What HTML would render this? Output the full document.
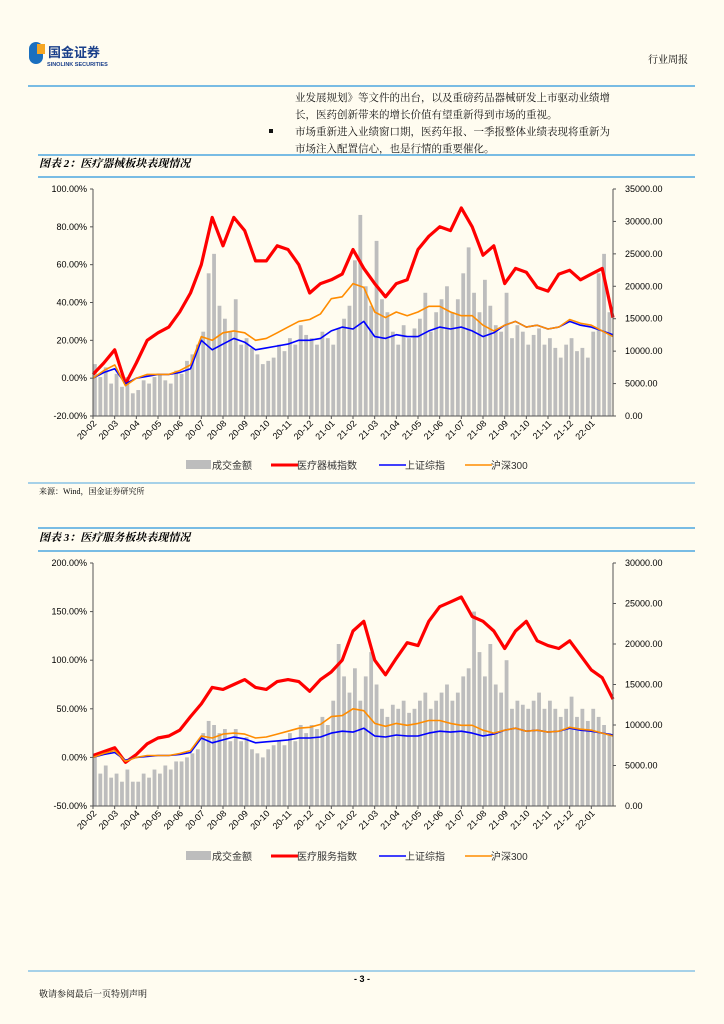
<!DOCTYPE html>
<html><head><meta charset="utf-8"><style>
body{margin:0;background:#fffcf0;}
svg{display:block;font-family:"Liberation Sans","Noto Sans CJK SC",sans-serif;}
.cn{font-family:"Liberation Serif","Noto Serif CJK SC",serif;}
</style></head><body>
<svg id="page" width="724" height="1024" viewBox="0 0 724 1024">
<rect width="724" height="1024" fill="#fffcf0"/>
<g>
<rect x="29" y="42" width="14" height="22" rx="7" fill="#1a6fbf"/>
<rect x="37" y="44" width="8" height="10" fill="#f5a623"/>
<text x="48" y="57" font-size="13" font-weight="bold" fill="#1a3f8a">国金证券</text>
<text x="47" y="66" font-size="5.5" font-weight="bold" fill="#1a3f8a">SINOLINK SECURITIES</text>
</g>
<text x="688" y="63" font-size="10" text-anchor="end" class="cn">行业周报</text>
<line x1="28" y1="86" x2="695" y2="86" stroke="#4da6e0" stroke-width="1.5"/>
<g class="cn" font-size="10.5" fill="#111">
<text x="295" y="101">业发展规划》等文件的出台，以及重磅药品器械研发上市驱动业绩增</text>
<text x="295" y="118">长，医药创新带来的增长价值有望重新得到市场的重视。</text>
<rect x="269" y="129" width="4" height="4" fill="#111"/>
<text x="295" y="135">市场重新进入业绩窗口期，医药年报、一季报整体业绩表现将重新为</text>
<text x="295" y="152">市场注入配置信心，也是行情的重要催化。</text>
</g>
<line x1="38" y1="155" x2="695" y2="155" stroke="#4da6e0" stroke-width="1.5"/>
<text x="39" y="167" font-size="11" font-weight="bold" font-style="italic" class="cn">图表 2：医疗器械板块表现情况</text>
<line x1="38" y1="177" x2="695" y2="177" stroke="#4da6e0" stroke-width="1.5"/>
<g id="c1"></g>
<line x1="28" y1="483" x2="695" y2="483" stroke="#4da6e0" stroke-width="1"/>
<text x="39" y="494" font-size="8" class="cn">来源：Wind，国金证券研究所</text>
<line x1="38" y1="528" x2="695" y2="528" stroke="#4da6e0" stroke-width="1.5"/>
<text x="39" y="541" font-size="11" font-weight="bold" font-style="italic" class="cn">图表 3：医疗服务板块表现情况</text>
<line x1="38" y1="551" x2="695" y2="551" stroke="#4da6e0" stroke-width="1.5"/>
<g id="c2"></g>
<line x1="28" y1="971" x2="695" y2="971" stroke="#4da6e0" stroke-width="1"/>
<text x="362" y="982" font-size="9" font-weight="bold" text-anchor="middle">- 3 -</text>
<text x="39" y="997" font-size="9" class="cn">敬请参阅最后一页特别声明</text>
</svg>
<script>
const months=["20-02","20-03","20-04","20-05","20-06","20-07","20-08","20-09","20-10","20-11","20-12","21-01","21-02","21-03","21-04","21-05","21-06","21-07","21-08","21-09","21-10","21-11","21-12","22-01"];
const deviceIndex=[2,8,15,-3,8,20,24,27,35,45,60,85,70,85,78,62,62,70,68,60,45,50,52,55,68,58,50,43,50,52,68,75,80,78,90,80,65,70,50,58,56,48,46,55,57,52,55,58,32];
const serviceIndex=[2,6,10,-5,3,14,20,22,28,42,55,72,70,75,80,72,70,78,80,78,68,80,88,100,130,140,100,85,102,118,115,140,155,160,165,145,140,130,112,130,140,120,115,112,120,105,90,82,60];
const shIndex=[0,3,5,-3,0,1,2,2,3,5,20,15,18,21,19,15,16,17,18,20,20,21,25,27,26,30,22,21,23,22,22,25,27,26,27,25,22,24,28,30,27,28,26,27,30,28,27,25,23];
const hs300=[0,4,7,-4,0,2,2,2,4,7,22,20,24,25,24,20,21,24,27,30,31,34,42,43,50,48,35,32,35,33,35,38,38,35,33,33,28,25,28,30,27,28,26,27,31,29,28,25,22];
const volume1=[8000,6000,7500,5000,6500,4500,6000,3500,4000,5500,5000,6000,6500,5500,5000,7000,6500,8500,9500,11000,13000,22000,25000,17000,15000,13000,18000,11000,12000,10500,9500,8000,8500,9000,11000,10000,12000,11000,14000,12500,12000,11000,13000,12000,11000,13500,15000,17000,24000,31000,20000,17000,27000,18000,16000,13000,11000,14000,12000,13500,15000,19000,13000,16000,18000,20000,16000,18000,22000,26000,19000,16000,21000,17000,14000,13000,19000,12000,14000,13000,11000,12500,13500,11000,12000,10500,9000,11000,12000,10000,10500,9000,13000,22000,25000,16000];
const volume2=[6000,4000,5000,3500,4000,3000,4500,3000,3000,4000,3500,4500,4000,5000,4500,5500,5500,6000,6500,7000,9000,10500,10000,9000,9500,8000,9500,8000,8500,7000,6500,6000,7000,7500,8000,7500,9000,8000,10000,9000,10000,9500,11000,10000,13000,20000,16000,14000,17000,13000,16000,19000,15000,12000,11000,12500,12000,13000,11500,12000,13000,14000,12000,13000,14000,15000,13000,14000,16000,17000,24000,19000,16000,20000,15000,14000,18000,12000,13000,12500,12000,13000,14000,12000,13000,12000,11000,12000,13500,11000,12000,10500,12000,11000,10000,9000];
const leftTicks1=["100.00%","80.00%","60.00%","40.00%","20.00%","0.00%","-20.00%"];
const rightTicks1=["35000.00","30000.00","25000.00","20000.00","15000.00","10000.00","5000.00","0.00"];
const leftTicks2=["200.00%","150.00%","100.00%","50.00%","0.00%","-50.00%"];
const rightTicks2=["30000.00","25000.00","20000.00","15000.00","10000.00","5000.00","0.00"];
const NS="http://www.w3.org/2000/svg";
function mk(p,tag,a){const e=document.createElementNS(NS,tag);for(const k in a)e.setAttribute(k,a[k]);p.appendChild(e);return e;}
function chart(gid,top,bottom,lmin,lmax,rmax,lt,rt,red,vol,redName,legY){
 const g=document.getElementById(gid);const x0=93,x1=613;
 const xs=t=>x0+t*(x1-x0)/48; const yl=v=>bottom-(v-lmin)/(lmax-lmin)*(bottom-top); const yr=v=>bottom-v/rmax*(bottom-top);
 vol.forEach((v,i)=>{const bw=(x1-x0)/vol.length;const r=mk(g,'rect',{x:x0+i*bw,y:yr(v),width:bw*0.7,height:bottom-yr(v),fill:'#bdbdbd'});
  
  });
 function line(arr,col,w,nm){const d=arr.map((v,i)=>(i?'L':'M')+xs(i).toFixed(1)+','+yl(v).toFixed(1)).join('');const p=mk(g,'path',{d:d,fill:'none',stroke:col,'stroke-width':w,'stroke-linejoin':'round'});
  
  }
 line(red,'#ff0000',3.2,'sector-index-line');line(shIndex,'#0000ff',1.6,'shanghai-composite-line');line(hs300,'#ff8c00',1.6,'csi300-line');
 mk(g,'line',{x1:x0,y1:top,x2:x0,y2:bottom,stroke:'#555'});mk(g,'line',{x1:x1,y1:top,x2:x1,y2:bottom,stroke:'#555'});mk(g,'line',{x1:x0,y1:bottom,x2:x1,y2:bottom,stroke:'#555'});
 lt.forEach((s,i)=>{const y=top+i*(bottom-top)/(lt.length-1);mk(g,'line',{x1:x0-3,y1:y,x2:x0,y2:y,stroke:'#555'});const t=mk(g,'text',{x:x0-6,y:y+3,'font-size':9,'text-anchor':'end'});t.textContent=s;
  
  });
 rt.forEach((s,i)=>{const y=top+i*(bottom-top)/(rt.length-1);mk(g,'line',{x1:x1,y1:y,x2:x1+3,y2:y,stroke:'#555'});const t=mk(g,'text',{x:x1+12,y:y+3,'font-size':9});t.textContent=s;
  
  });
 months.forEach((m,i)=>{const x=xs(i*2);mk(g,'line',{x1:x,y1:bottom,x2:x,y2:bottom+3,stroke:'#555'});const t=mk(g,'text',{x:x+4,y:bottom+8,'font-size':9,'text-anchor':'end',transform:`rotate(-45 ${x+4} ${bottom+8})`});t.textContent=m;
  
  });
 const items=[['成交金额','#bdbdbd',186,'rect'],[redName,'#ff0000',271,3],['上证综指','#0000ff',379,1.6],['沪深300','#ff8c00',465,1.6]];
 items.forEach(it=>{const lg=mk(g,'g',{});
  
  
  if(it[3]==='rect')mk(lg,'rect',{x:it[2],y:legY-5,width:25,height:9,fill:it[1]});else mk(lg,'line',{x1:it[2],y1:legY,x2:it[2]+27,y2:legY,stroke:it[1],'stroke-width':it[3]});
  const t=mk(lg,'text',{x:it[2]+26,y:legY+4,'font-size':10,fill:'#333'});t.textContent=it[0];});
}
chart('c1',189,416,-20,100,35000,leftTicks1,rightTicks1,deviceIndex,volume1,'医疗器械指数',465);
chart('c2',563,806,-50,200,30000,leftTicks2,rightTicks2,serviceIndex,volume2,'医疗服务指数',856);
</script>
</body></html>
